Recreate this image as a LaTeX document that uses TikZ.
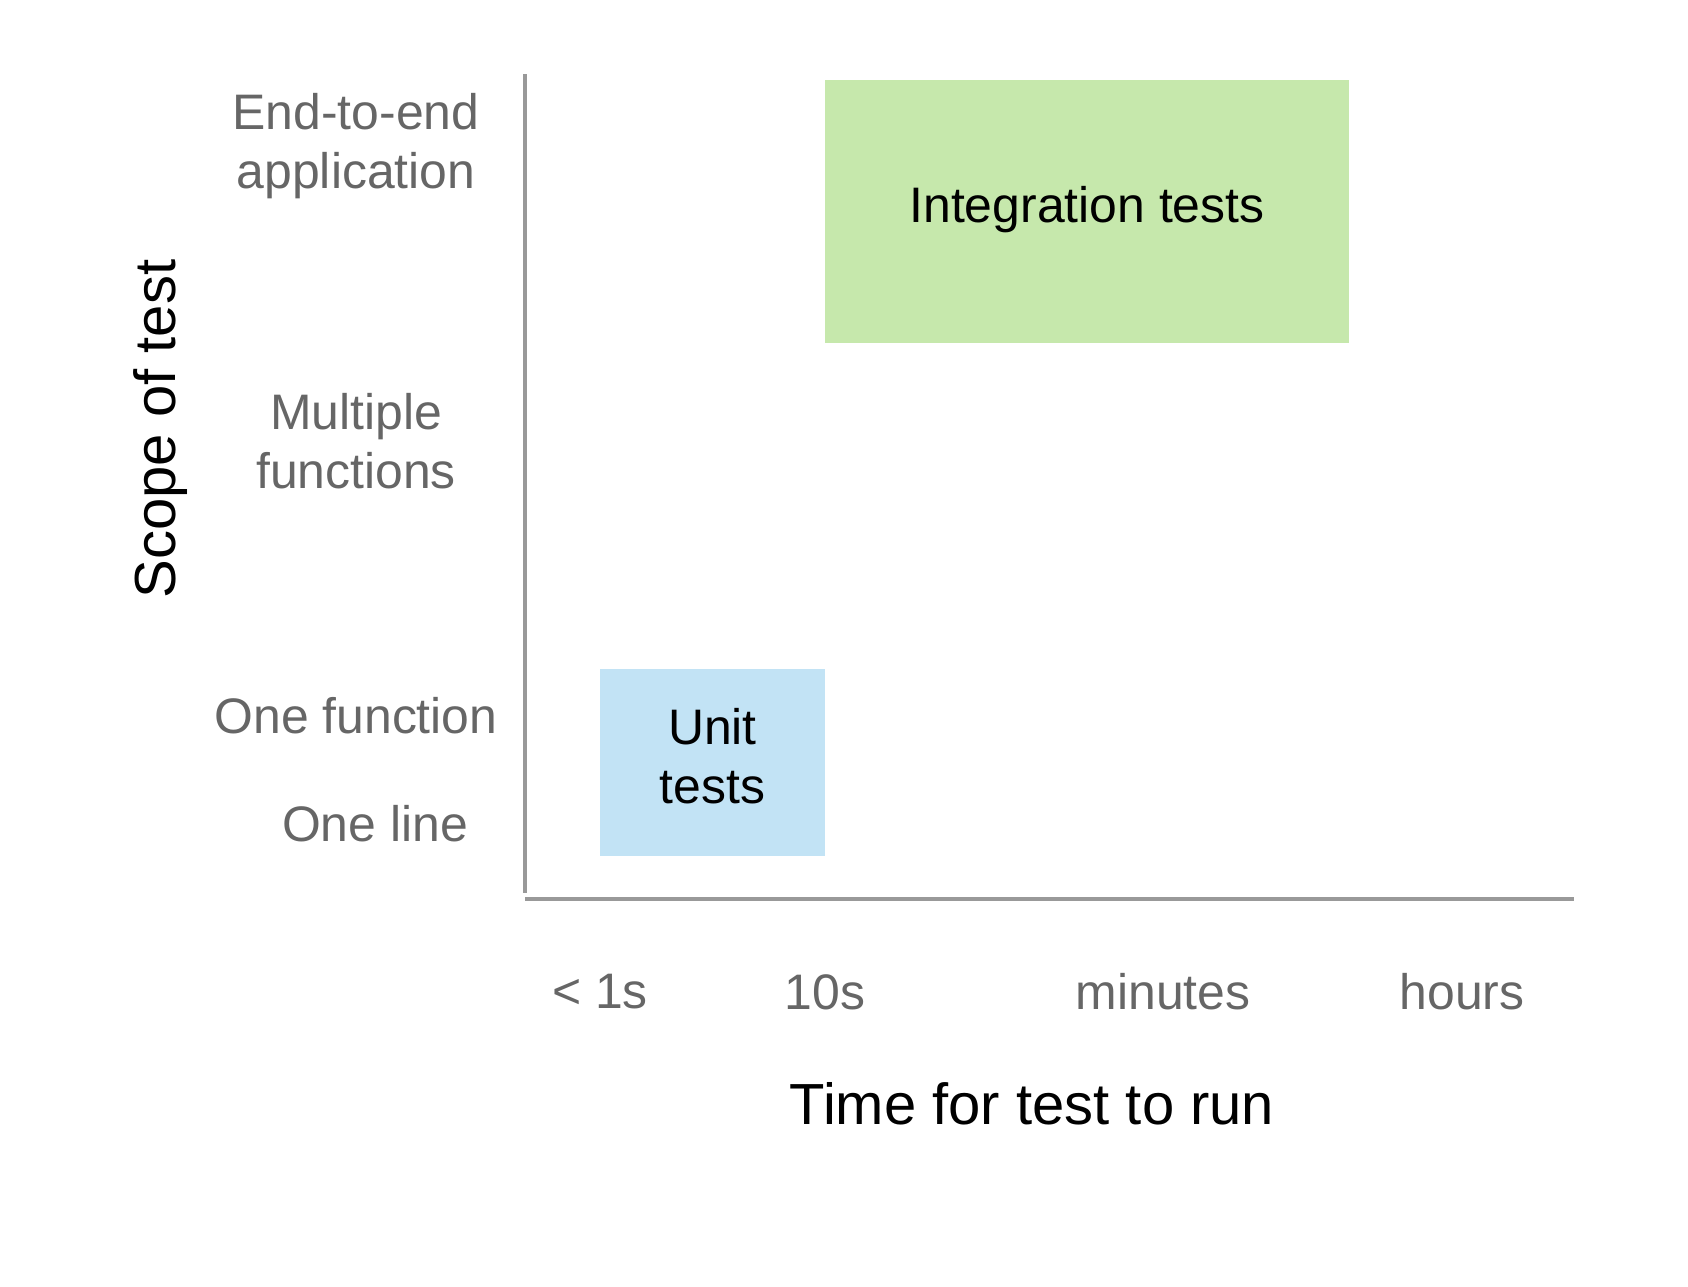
\documentclass[tikz,border=0pt]{standalone}
\usepackage{fontspec}
\setmainfont{Liberation Sans}
\definecolor{axisgray}{HTML}{999999}
\definecolor{labelgray}{HTML}{666666}
\definecolor{integgreen}{HTML}{C6E8AC}
\definecolor{unitblue}{HTML}{C2E3F5}
\begin{document}
\begin{tikzpicture}[x=0.02cm, y=-0.02cm,
  lbl/.style={text=labelgray, font=\fontsize{28.4}{33.6}\selectfont, align=center, inner sep=0pt},
  ttl/.style={text=black, font=\fontsize{33}{39}\selectfont, inner sep=0pt},
  testbox/.style={inner sep=0pt, draw=none},
  boxtxt/.style={font=\fontsize{28.4}{33.6}\selectfont, align=center, inner sep=0pt}]
  \useasboundingbox (0,0) rectangle (1688,1286);
  %% ── Axes ───────────────────────────────────────────────────
  \coordinate (ytop)   at (525,74);
  \coordinate (origin) at (525,893);
  \coordinate (xstart) at (525,899);
  \coordinate (xend)   at (1574,899);
  \draw[axisgray, line width=2.3pt] (ytop) -- (origin);
  \draw[axisgray, line width=2.3pt] (xstart) -- (xend);
  %% ── Test boxes ─────────────────────────────────────────────
  \node[testbox, fill=integgreen, minimum width=10.48cm, minimum height=5.26cm]
    (integ) at (1087,211.5) {};
  \node[boxtxt] (integtxt) at ([yshift=1.2pt]integ.center) {Integration tests};
  \node[testbox, fill=unitblue, minimum width=4.5cm, minimum height=3.74cm]
    (unit) at (712.5,762.5) {};
  \node[boxtxt] (unittxt) at ([yshift=3.4pt]unit.center) {Unit\\tests};
  %% ── Scope labels (y axis) ──────────────────────────────────
  \foreach \y/\xx/\txt/\nm in {
    146/356/{End-to-end\\application}/e2e,
    441/356/{Multiple\\functions}/multi,
    716/356/{One function}/onefn,
    824/375/{One line}/oneln}{
    \node[lbl] (\nm) at (\xx,\y) {\txt};
  }
  %% ── Time labels (x axis) ───────────────────────────────────
  \foreach \xx/\txt/\nm in {
    600/{< 1s}/tsec,
    825/{10s}/tten,
    1163/{minutes}/tmin,
    1462/{hours}/thrs}{
    \node[lbl] (\nm) at (\xx,992) {\txt};
  }
  %% ── Axis titles ────────────────────────────────────────────
  \node[ttl] (xtitle) at (1032,1104) {Time for test to run};
  \node[ttl, rotate=90] (ytitle) at (161,429) {Scope of test};
\end{tikzpicture}
\end{document}
